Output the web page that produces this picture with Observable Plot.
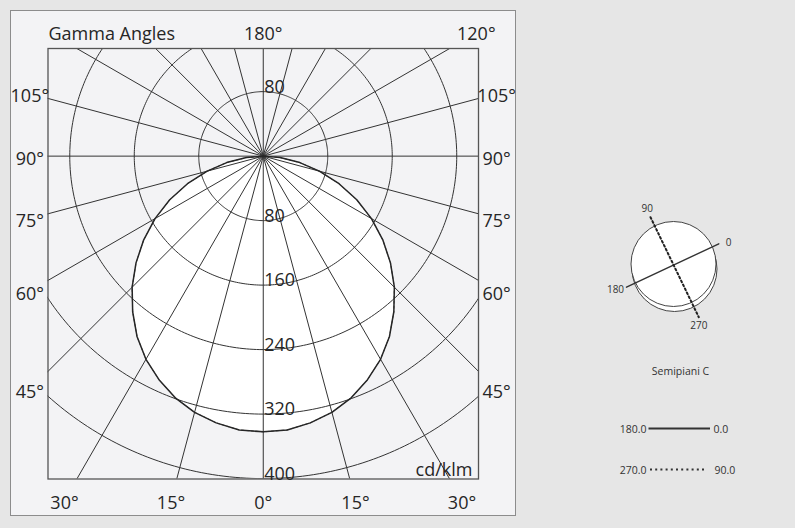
<!DOCTYPE html>
<html><head><meta charset="utf-8">
<script src="https://cdn.jsdelivr.net/npm/d3@7"></script>
<script src="https://cdn.jsdelivr.net/npm/@observablehq/plot@0.6"></script>
<style>
html,body{margin:0;padding:0;background:#e6e6e6;width:795px;height:528px;overflow:hidden;font-family:"Open Sans",sans-serif}
#panel{position:absolute;left:10px;top:10px;width:506px;height:506px;box-sizing:border-box;background:#f3f3f5;border:1.5px solid #8c8c8c}
#main{position:absolute;left:0;top:0}
#side{position:absolute;left:590px;top:190px}
svg{background:transparent !important;overflow:visible}
</style></head><body>
<div id="panel"></div><div id="main"></div><div id="side"></div>
<script>
// ---------- data ----------
const gammaAngles = [0,5,10,15,20,25,30,35,40,45,50,55,60,65,70,75,80,85,90];
const intensityC0 = [342,341,336,329,319,306,291,273,252,230,206,181,155,128,100,72,46,21,0];
const intensityC180 = [342,341,336,329,319,306,291,273,252,230,206,181,155,128,100,72,46,21,0];
const intensityC90 = [342,341,336,329,319,306,291,273,252,230,206,181,155,128,100,72,46,21,0];
const intensityC270 = [342,341,336,329,319,306,291,273,252,230,206,181,155,128,100,72,46,21,0];
const radiusTicks = [80,160,240,320,400];
const rayStep = 15;
const sideAngleLabels = [105,90,75,60,45];
const bottomAngleLabels = [30,15,0,15,30];
const bottomAngleSides = [-1,-1,1,1,1];
const topAngleLabels = [180,120];
const unitLabel = "cd/klm";
const titleLabel = "Gamma Angles";
const legendTitle = "Semipiani C";
const planeNames = ["0","90","180","270"];
const legendRows = [["180.0","0.0"],["270.0","90.0"]];

// ---------- layout ----------
const W = 795, H = 528;
const X_DOM = [-267, 267], Y_DOM = [-400.5, 133.5];
const LBOX = {x: 289.5, bottom: 427, top: 152.6};
const INK = "#262626";
const GRID = "#333";
const rad = d => d * Math.PI / 180;

// polar (gamma from nadir, side +1 right / -1 left) -> cartesian (y up)
const pt = (g, r, s) => ({x: s * r * Math.sin(rad(g)), y: -r * Math.cos(rad(g))});

function curvePoints(left, right) {
  const pts = [];
  for (let i = gammaAngles.length - 1; i >= 0; i--) pts.push(pt(gammaAngles[i], left[i], -1));
  for (let i = 0; i < gammaAngles.length; i++) pts.push(pt(gammaAngles[i], right[i], 1));
  return pts;
}
const curveC = curvePoints(intensityC180, intensityC0);
const curveD = curvePoints(intensityC270, intensityC90);

const circlePts = radiusTicks.flatMap(r => d3.range(0, 361, 1).map(t => ({r, x: r * Math.sin(rad(t)), y: r * Math.cos(rad(t))})));
const rays = d3.range(0, 360, rayStep);

function labelPos(a, s, dy0) {
  const dx = s * Math.sin(rad(a)), dy = -Math.cos(rad(a));
  const tx = Math.abs(dx) > 1e-9 ? LBOX.x / Math.abs(dx) : Infinity;
  const ty = dy < -1e-9 ? LBOX.bottom / -dy : dy > 1e-9 ? LBOX.top / dy : Infinity;
  const t = Math.min(tx, ty);
  return {x: dx * t, y: dy * t, text: `${a}°`, off: dy0};
}
const angleLabels = [
  ...sideAngleLabels.map(a => labelPos(a, -1, 3)),
  ...sideAngleLabels.map(a => labelPos(a, 1, 3)),
  ...bottomAngleLabels.map((a, i) => labelPos(a, bottomAngleSides[i], 3)),
  ...topAngleLabels.map(a => labelPos(a, 1, 1))
];
const radiusLabels = [
  ...radiusTicks.filter(r => r <= -Y_DOM[0]).map(r => ({y: -r, text: String(r)})),
  ...radiusTicks.filter(r => r <= Y_DOM[1]).map(r => ({y: r, text: String(r)}))
];

const main = Plot.plot({
  width: W, height: H,
  marginLeft: 47.5, marginRight: W - 478, marginTop: 48, marginBottom: H - 478.5,
  x: {domain: X_DOM, axis: null},
  y: {domain: Y_DOM, axis: null},
  style: {fontFamily: "'Open Sans', sans-serif", background: "transparent", color: INK},
  marks: [
    Plot.line(curveC, {x: "x", y: "y", fill: "white", stroke: "none"}),
    Plot.line(circlePts, {x: "x", y: "y", z: "r", stroke: GRID, strokeWidth: 1, clip: true}),
    Plot.link(rays, {x1: () => 0, y1: () => 0, x2: a => 800 * Math.sin(rad(a)), y2: a => -800 * Math.cos(rad(a)), stroke: GRID, strokeWidth: 1, clip: true}),
    Plot.line(curveD, {x: "x", y: "y", stroke: INK, strokeWidth: 0.8, strokeDasharray: "2,3"}),
    Plot.line(curveC, {x: "x", y: "y", stroke: INK, strokeWidth: 1.5}),
    Plot.frame({stroke: "#555", strokeWidth: 1.3}),
    Plot.text(radiusLabels, {x: () => 0, y: "y", text: "text", textAnchor: "start", lineAnchor: "bottom", dx: 1, dy: 1, fontSize: 18, fill: INK}),
    Plot.text(angleLabels.filter(d => d.off === 3), {x: "x", y: "y", text: "text", textAnchor: "middle", lineAnchor: "middle", dy: 3, fontSize: 18, fill: INK}),
    Plot.text(angleLabels.filter(d => d.off === 1), {x: "x", y: "y", text: "text", textAnchor: "middle", lineAnchor: "middle", dy: 1, fontSize: 18, fill: INK}),
    Plot.text([unitLabel], {frameAnchor: "bottom-right", text: d => d, dx: -6, dy: -3.5, lineAnchor: "bottom", fontSize: 18, fill: INK}),
    Plot.text([titleLabel], {frameAnchor: "top-left", text: d => d, textAnchor: "start", lineAnchor: "bottom", dx: 0.5, dy: -8.5, fontSize: 18, fill: INK})
  ]
});
document.getElementById("main").appendChild(main);

// ---------- right-hand legend (icon of C planes + line styles) ----------
const icon = {
  front: {x: 0, y: -1.5, r: 42.5}, back: {x: 1, y: 3.5, r: 42.5},
  ends: [[45.3, -21.7], [-23, -48.3], [-47, 21.7], [25.3, 51.7]],
  labels: [[55, -22.3], [-26.3, -56.7], [-58, 24.3], [25.3, 60]]
};
const solidPlane = [{x: icon.ends[2][0], y: icon.ends[2][1]}, {x: icon.ends[0][0], y: icon.ends[0][1]}];
const dottedPlane = [{x: icon.ends[1][0], y: icon.ends[1][1]}, {x: icon.ends[3][0], y: icon.ends[3][1]}];
const legendY = [163, 204];
const side = Plot.plot({
  width: 205, height: 310, margin: 0,
  x: {domain: [-83, 122], range: [0, 205], axis: null},
  y: {domain: [-75, 235], range: [0, 310], axis: null},
  style: {fontFamily: "'Open Sans', sans-serif", background: "transparent", color: "#333"},
  marks: [
    Plot.dot([icon.back], {x: "x", y: "y", r: icon.back.r, fill: "white", stroke: "#444", strokeWidth: 1}),
    Plot.dot([icon.front], {x: "x", y: "y", r: icon.front.r, fill: "white", stroke: "#444", strokeWidth: 1}),
    Plot.line(solidPlane, {x: "x", y: "y", stroke: "#333", strokeWidth: 1.4}),
    Plot.line(dottedPlane, {x: "x", y: "y", stroke: "#222", strokeWidth: 2, strokeDasharray: "1.8,2.6"}),
    Plot.text(planeNames, {x: (d, i) => icon.labels[i][0], y: (d, i) => icon.labels[i][1], text: d => d, fontSize: 10, fill: "#333"}),
    Plot.text([legendTitle], {x: () => 7, y: () => 105.7, text: d => d, fontSize: 10.5, fill: "#333"}),
    Plot.ruleY([legendY[0]], {x1: -24.5, x2: 37, stroke: "#333", strokeWidth: 2.2}),
    Plot.ruleY([legendY[1]], {x1: -23, x2: 34, stroke: "#333", strokeWidth: 2, strokeDasharray: "2,3.2"}),
    Plot.text(legendRows, {x: () => -27, y: (d, i) => legendY[i] + 0.8, text: d => d[0], textAnchor: "end", fontSize: 10.5, fill: "#333"}),
    Plot.text(legendRows, {x: (d, i) => i ? 41 : 40, y: (d, i) => legendY[i] + 0.8, text: d => d[1], textAnchor: "start", fontSize: 10.5, fill: "#333"})
  ]
});
document.getElementById("side").appendChild(side);
</script>
</body></html>
